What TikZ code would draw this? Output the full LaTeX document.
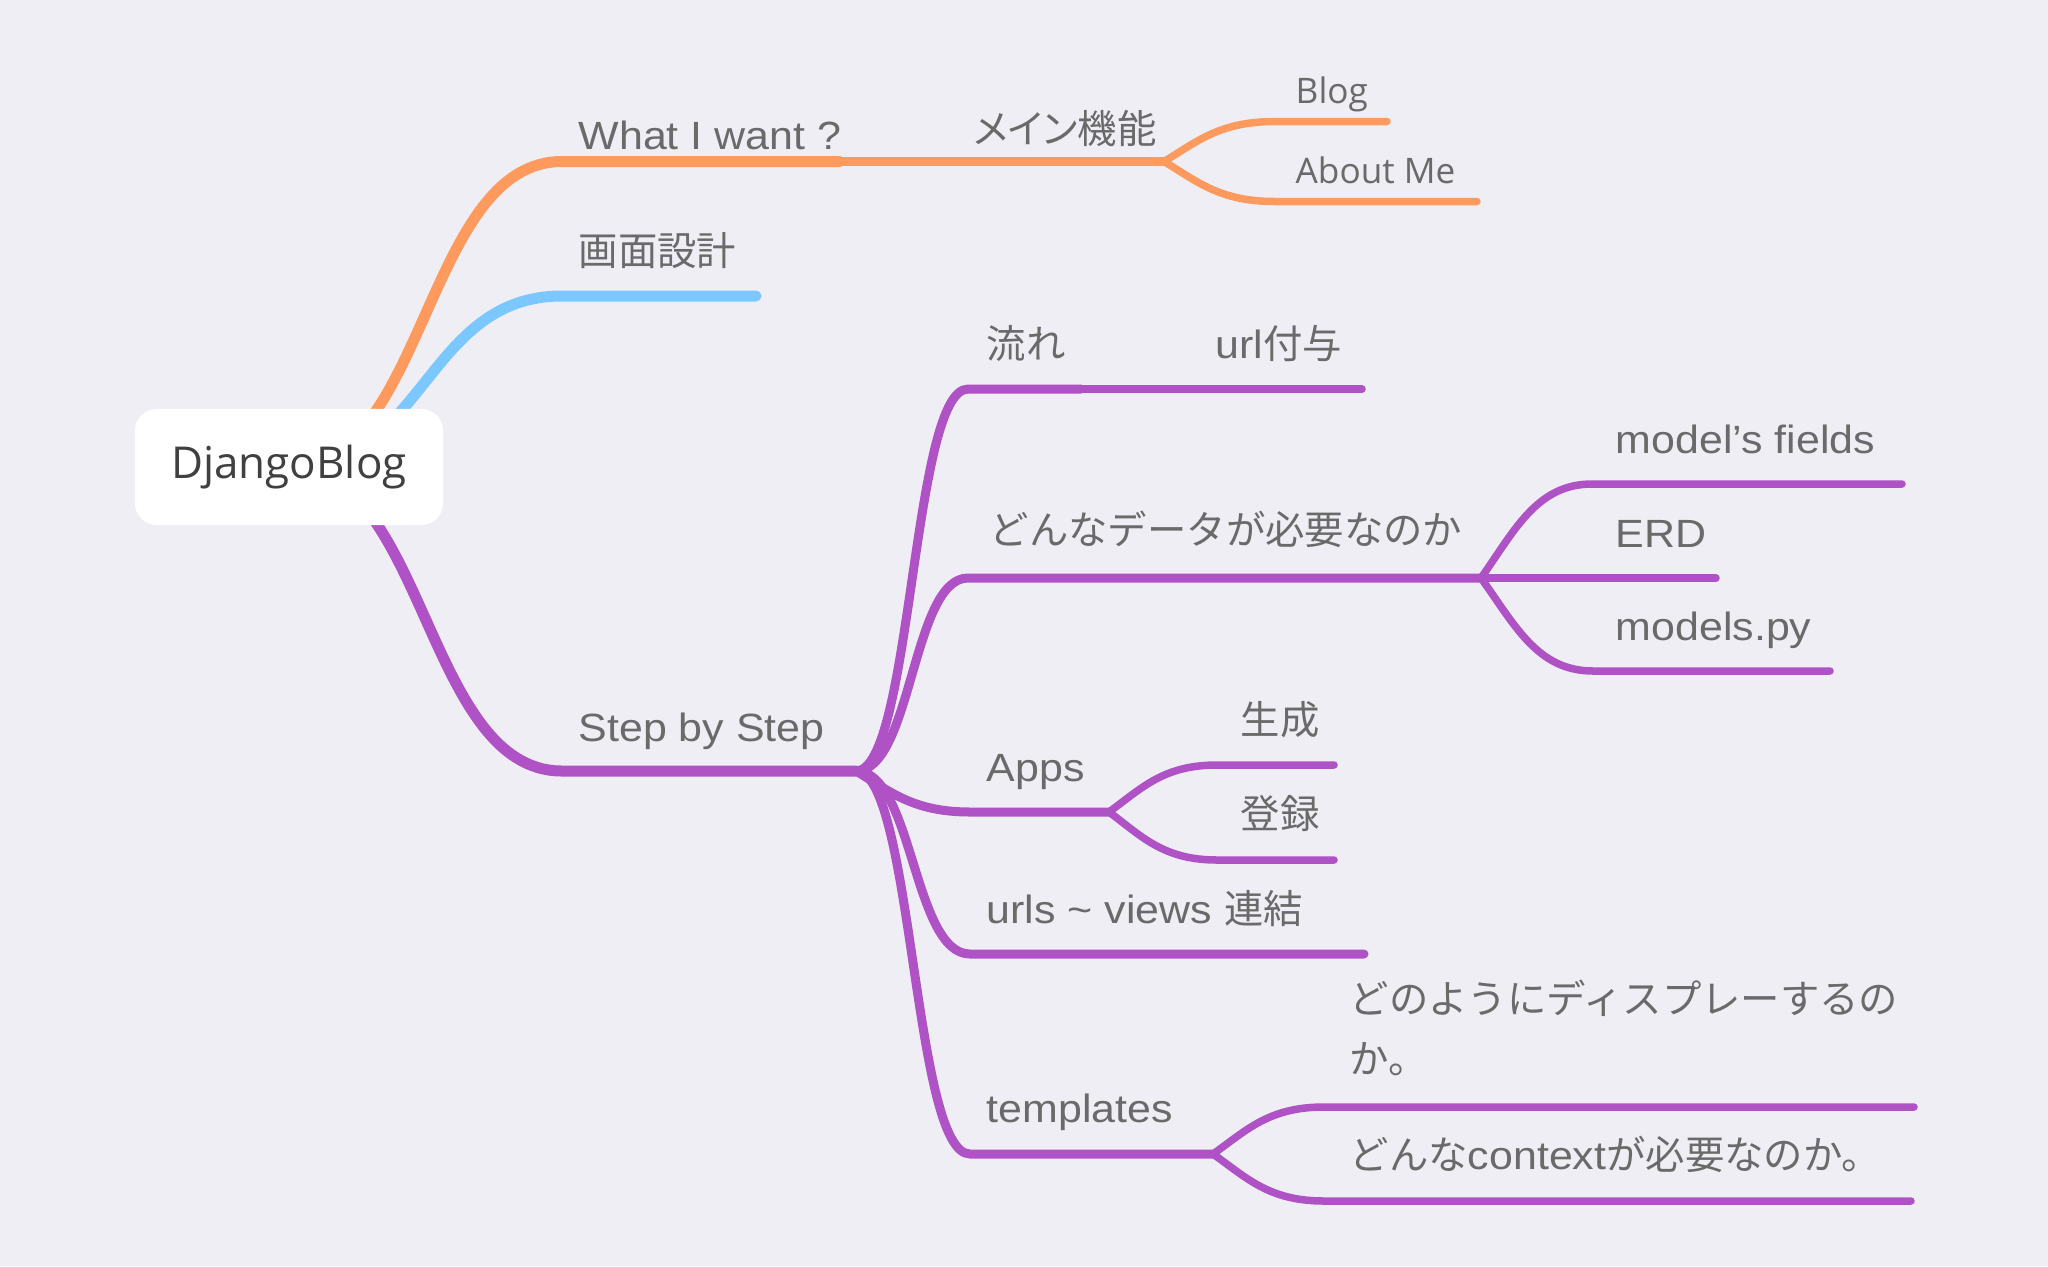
\documentclass[tikz,border=0pt]{standalone}
\usepackage{fontspec}
\setmainfont{Liberation Sans}[FakeStretch=1.09]
\newfontfamily\jp{Noto Sans CJK JP}
\newfontfamily\jpp{Noto Sans CJK JP}[RawFeature=+palt]
\newfontfamily\opensans{Open Sans}
\usetikzlibrary{calc}

\definecolor{bgc}{HTML}{EFEEF5}
\definecolor{orangeB}{HTML}{FF9A5E}
\definecolor{blueB}{HTML}{7AC8FF}
\definecolor{purpleB}{HTML}{AE52C6}
\definecolor{txtgray}{HTML}{6A6A6A}
\definecolor{rootgray}{HTML}{404040}

\tikzset{
  branch/.style={to path={let \p1=(\tikztostart), \p2=(\tikztotarget) in
    .. controls ({(\x1+\x2)/2},\y1) and ({(\x1+\x2)/2},\y2) .. (\tikztotarget)}},
  fork/.style={to path={let \p1=(\tikztostart), \p2=(\tikztotarget) in
    .. controls ({\x1+0.3*(\x2-\x1)},{\y1+0.5*(\y2-\y1)}) and ({(\x1+\x2)/2},\y2) .. (\tikztotarget)}},
  lone/.style={line width=0.11cm, line cap=round, line join=round},
  ltwo/.style={line width=0.09cm, line cap=round, line join=round},
  lthree/.style={line width=0.075cm, line cap=round, line join=round},
  lbl/.style={anchor=base west, inner sep=0pt, text=txtgray, font=\fontsize{11.2}{14}\selectfont},
  osl/.style={font=\opensans\fontsize{10}{12}\selectfont},
  rootbox/.style={fill=white, rounded corners=0.22cm, minimum width=3.08cm, minimum height=1.16cm,
    inner sep=0pt, text=rootgray, font=\opensans\fontsize{12.5}{15}\selectfont}
}

\begin{document}
\begin{tikzpicture}[x=0.01cm, y=-0.01cm]
\fill[bgc] (0,0) rectangle (2048,1266);
\useasboundingbox (0,0) rectangle (2048,1266);

% branch end points
\coordinate (hub) at (289,467);
\coordinate (what-s) at (562,161.5);  \coordinate (what-e) at (840,161.5);
\coordinate (mein-e) at (1164,161.5);
\coordinate (blog-s) at (1275,121.5); \coordinate (blog-e) at (1387,121.5);
\coordinate (about-s) at (1275,201.5); \coordinate (about-e) at (1477,201.5);
\coordinate (gamen-s) at (562,296);  \coordinate (gamen-e) at (756,296);
\coordinate (sbs-s) at (562,771);    \coordinate (sbs-e) at (856,771);
\coordinate (ryu-s) at (968,389);    \coordinate (ryu-e) at (1081,389);
\coordinate (url-e) at (1362,389);
\coordinate (data-s) at (968,578);   \coordinate (data-e) at (1481,578);
\coordinate (mf-s) at (1592,484);    \coordinate (mf-e) at (1902,484);
\coordinate (erd-e) at (1716,578);
\coordinate (mpy-s) at (1593,671);   \coordinate (mpy-e) at (1830,671);
\coordinate (apps-s) at (970,812);   \coordinate (apps-e) at (1109,812);
\coordinate (gen-s) at (1217,765);   \coordinate (gen-e) at (1334,765);
\coordinate (reg-s) at (1217,860);   \coordinate (reg-e) at (1334,860);
\coordinate (urls-s) at (970,954);   \coordinate (urls-e) at (1364,954);
\coordinate (tmpl-s) at (970,1154);  \coordinate (tmpl-e) at (1213,1154);
\coordinate (disp-s) at (1324,1107); \coordinate (disp-e) at (1914,1107);
\coordinate (ctx-s) at (1324,1201);  \coordinate (ctx-e) at (1911,1201);

% orange
\draw[lone, orangeB] (hub) to[branch] (what-s) -- (what-e);
\draw[ltwo, orangeB] (what-e) -- (mein-e);
\draw[lthree, orangeB] (mein-e) to[fork] (blog-s) -- (blog-e);
\draw[lthree, orangeB] (mein-e) to[fork] (about-s) -- (about-e);
% blue
\draw[lone, blueB] (hub) to[branch] (gamen-s) -- (gamen-e);
% purple
\draw[lone, purpleB] (hub) to[branch] (sbs-s) -- (sbs-e);
\draw[ltwo, purpleB] (sbs-e) to[branch] (ryu-s) -- (ryu-e);
\draw[lthree, purpleB] (ryu-e) -- (url-e);
\draw[ltwo, purpleB] (sbs-e) to[branch] (data-s) -- (data-e);
\draw[lthree, purpleB] (data-e) to[fork] (mf-s) -- (mf-e);
\draw[lthree, purpleB] (data-e) -- (erd-e);
\draw[lthree, purpleB] (data-e) to[fork] (mpy-s) -- (mpy-e);
\draw[ltwo, purpleB] (sbs-e) to[fork] (apps-s) -- (apps-e);
\draw[lthree, purpleB] (apps-e) to[fork] (gen-s) -- (gen-e);
\draw[lthree, purpleB] (apps-e) to[fork] (reg-s) -- (reg-e);
\draw[ltwo, purpleB] (sbs-e) to[branch] (urls-s) -- (urls-e);
\draw[ltwo, purpleB] (sbs-e) to[branch] (tmpl-s) -- (tmpl-e);
\draw[lthree, purpleB] (tmpl-e) to[fork] (disp-s) -- (disp-e);
\draw[lthree, purpleB] (tmpl-e) to[fork] (ctx-s) -- (ctx-e);

\node[rootbox] (root) at (hub) {DjangoBlog};

\node[lbl] (what) at (578,149) {What I want ?};
\node[lbl] (gamen) at (578,265) {\jp 画面設計};
\node[lbl] (sbs) at (578,741) {Step by Step};
\node[lbl] (mein) at (973,143) {\jpp メイン機能};
\node[lbl, osl] (blog) at (1295,103) {Blog};
\node[lbl, osl] (about) at (1295,183) {About Me};
\node[lbl] (ryu) at (986,358) {\jp 流れ};
\node[lbl] (url) at (1215,358) {url{\jp 付与}};
\node[lbl] (data) at (989,544) {\jp どんなデータが必要なのか};
\node[lbl] (mf) at (1615,453) {model’s fields};
\node[lbl] (erd) at (1615,547) {ERD};
\node[lbl] (mpy) at (1615,640) {models.py};
\node[lbl] (apps) at (986,781) {Apps};
\node[lbl] (gen) at (1240,734) {\jp 生成};
\node[lbl] (reg) at (1240,828) {\jp 登録};
\node[lbl] (urls) at (986,923) {urls \textasciitilde{} views {\jp 連結}};
\node[lbl] (tmpl) at (986,1122) {templates};
\node[lbl] (disp) at (1349,1013) {\jp\vtop{\baselineskip=0.6cm \hbox{どのようにディスプレーするの}\hbox{か。}}};
\node[lbl] (ctx) at (1349,1169) {{\jp どんな}context{\jp が必要なのか。}};
\end{tikzpicture}
\end{document}
